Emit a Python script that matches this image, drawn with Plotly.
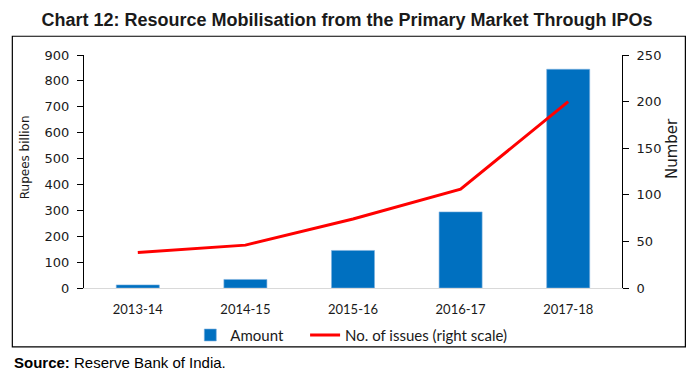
import plotly.graph_objects as go

categories = ["2013-14", "2014-15", "2015-16", "2016-17", "2017-18"]
amount = [12, 33, 145, 294, 845]          # Rupees billion
issues = [38, 46, 74, 106, 200]           # Number of issues

title_text = "Chart 12: Resource Mobilisation from the Primary Market Through IPOs"
source_text = "<b>Source:</b> Reserve Bank of India."
left_title = "Rupees billion"
right_title = "Number"

W, H = 698, 378
L, R, T, B = 83.5, 622.5, 54.5, 288.3
pw, ph = R - L, B - T

def px(x):
    return (x - L) / pw

def py(y):
    return (B - y) / ph

fig = go.Figure()
fig.add_trace(go.Bar(
    x=categories, y=amount, name="Amount",
    marker=dict(color="#0070C0", line=dict(color="#7FB2DF", width=0.6)),
    yaxis="y", legend="legend",
))
fig.add_trace(go.Scatter(
    x=categories, y=issues, name="No. of issues (right scale)",
    mode="lines", line=dict(color="#FF0000", width=3),
    yaxis="y2", legend="legend2",
))

tickfont = dict(family="DejaVu Sans", size=13, color="#1a1a1a")
legfont = dict(family="Lato", size=15, color="#1a1a1a")

fig.update_layout(
    width=W, height=H,
    margin=dict(l=L, r=W - R, t=T, b=H - B, pad=0),
    paper_bgcolor="white", plot_bgcolor="white",
    bargap=0.6,
    showlegend=True,
    legend=dict(orientation="h", x=px(190), xanchor="left",
                y=py(335.7), yanchor="middle", font=legfont,
                bgcolor="rgba(0,0,0,0)"),
    legend2=dict(orientation="h", x=px(305), xanchor="left",
                 y=py(335.7), yanchor="middle", font=legfont,
                 bgcolor="rgba(0,0,0,0)"),
    title=dict(text="<b>" + title_text + "</b>", x=347 / W, xanchor="center",
               y=1 - 20 / H, yanchor="middle",
               font=dict(family="Liberation Sans", size=18, color="#1a1a1a")),
    xaxis=dict(showline=True, linecolor="#D9D9D9", linewidth=1,
               ticks="", showgrid=False, zeroline=False,
               tickfont=dict(family="Lato", size=13, color="#1a1a1a"),
               ticklabelstandoff=9),
    yaxis=dict(range=[0, 900], dtick=100, showline=True, linecolor="black",
               linewidth=1, ticks="outside", ticklen=6, tickcolor="black",
               showgrid=False, zeroline=False, tickfont=tickfont,
               ticklabelstandoff=5),
    yaxis2=dict(range=[0, 250], dtick=50, overlaying="y", side="right",
                showline=True, linecolor="black", linewidth=1,
                ticks="outside", ticklen=6, tickcolor="black",
                showgrid=False, zeroline=False, tickfont=tickfont,
                ticklabelstandoff=5),
    shapes=[dict(type="rect", xref="paper", yref="paper",
                 x0=px(11.7), x1=px(686), y0=py(347.3), y1=py(35.7),
                 line=dict(color="black", width=1.2), fillcolor="rgba(0,0,0,0)",
                 layer="below")],
    annotations=[
        dict(text=source_text, xref="paper", yref="paper",
             x=px(11), y=py(363.5), xanchor="left", yanchor="middle",
             showarrow=False,
             font=dict(family="Liberation Sans", size=15, color="black")),
        dict(text=left_title, xref="paper", yref="paper",
             x=px(24), y=py(157.5), xanchor="center", yanchor="middle",
             textangle=-90, showarrow=False,
             font=dict(family="DejaVu Sans", size=12, color="#1a1a1a")),
        dict(text=right_title, xref="paper", yref="paper",
             x=px(672.5), y=py(148), xanchor="center", yanchor="middle",
             textangle=-90, showarrow=False,
             font=dict(family="DejaVu Sans", size=15, color="#1a1a1a")),
    ],
)

fig.write_html("out.html", config={"displayModeBar": False},
               post_script="document.body.style.margin='0';document.body.style.overflow='hidden';")
